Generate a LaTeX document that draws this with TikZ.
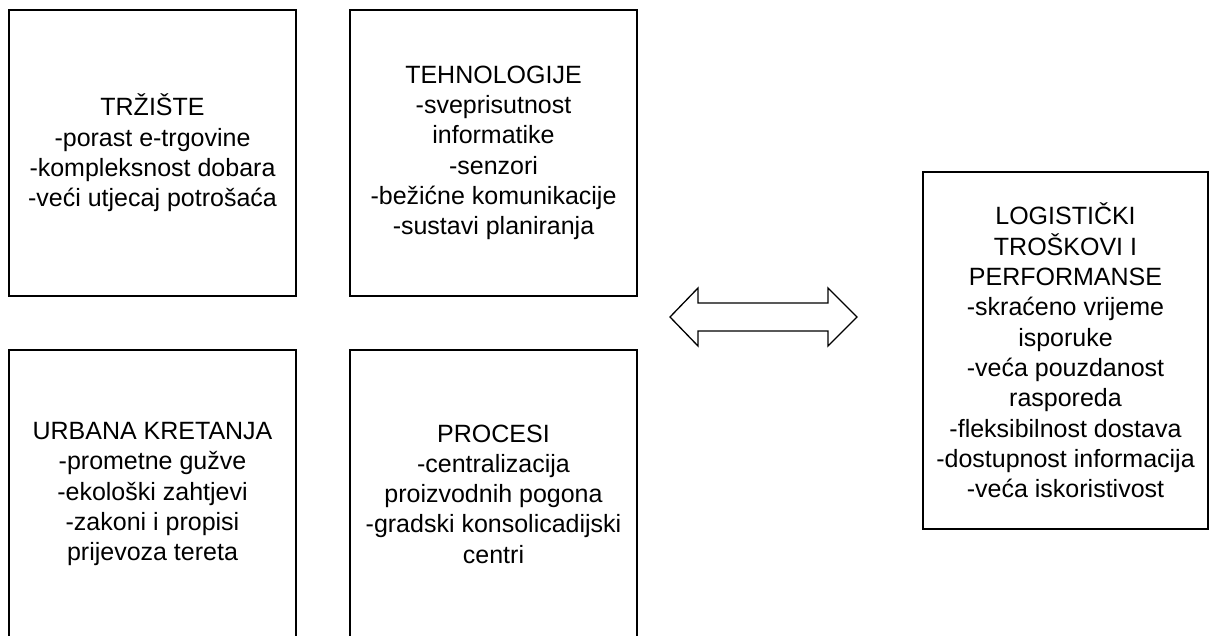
\documentclass[tikz,border=0pt]{standalone}
\usepackage{fontspec}
\setmainfont{Liberation Sans}
\begin{document}
\begin{tikzpicture}[x=1pt,y=-1pt,
  box/.style={draw=black,line width=1.3pt,rectangle,align=center,inner sep=0pt,
    font=\fontsize{25}{30.3}\selectfont},
  block/.style={draw=black,line width=1.3pt,fill=white,line join=miter}]
\useasboundingbox (0,0) rectangle (1210,635);
\node[box,minimum width=287pt,minimum height=286pt] (trz) at (152.5,153)
  {TRŽIŠTE\\-porast e-trgovine\\-kompleksnost dobara\\-veći utjecaj potrošaća};
\node[box,minimum width=287pt,minimum height=286pt] (teh) at (493.5,153)
  {TEHNOLOGIJE\\-sveprisutnost\\informatike\\-senzori\\-bežićne komunikacije\\-sustavi planiranja};
\node[box,minimum width=287pt,minimum height=288pt] (urb) at (152.5,494)
  {URBANA KRETANJA\\-prometne gužve\\-ekološki zahtjevi\\-zakoni i propisi\\prijevoza tereta};
\node[box,minimum width=287pt,minimum height=288pt] (pro) at (493.5,494)
  {PROCESI\\-centralizacija\\proizvodnih pogona\\-gradski konsolicadijski\\centri};
\node[box,minimum width=285pt,minimum height=357pt] (log) at (1065.5,350.5)
  {LOGISTIČKI\\TROŠKOVI I\\PERFORMANSE\\-skraćeno vrijeme\\isporuke\\-veća pouzdanost\\rasporeda\\-fleksibilnost dostava\\-dostupnost informacija\\-veća iskoristivost};
\draw[block] (670,317) -- (698,288) -- (698,303) -- (828,303) -- (828,288) -- (857,317)
  -- (828,346) -- (828,331) -- (698,331) -- (698,346) -- cycle;
\end{tikzpicture}
\end{document}
